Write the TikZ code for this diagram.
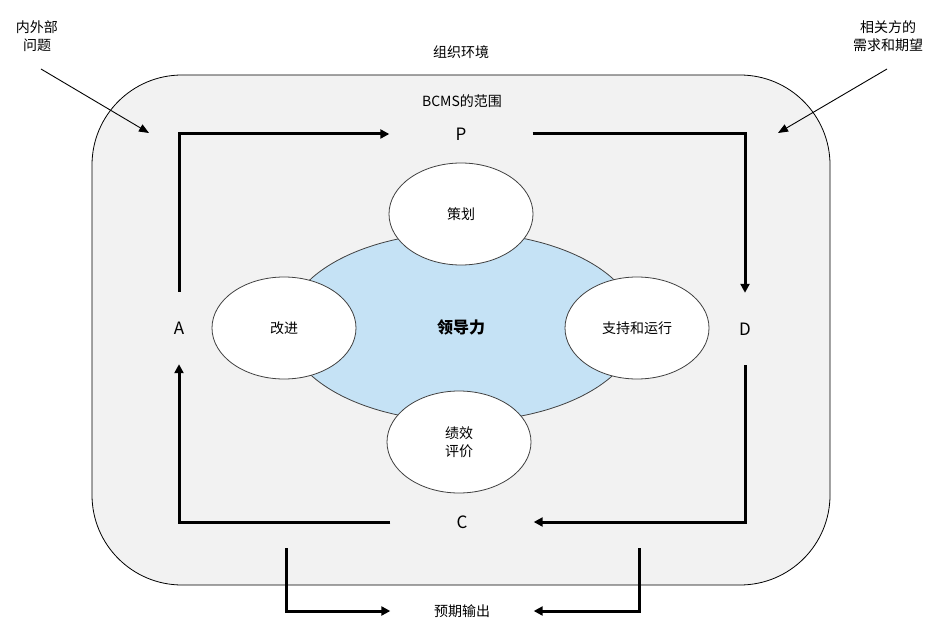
\documentclass[tikz,border=0pt]{standalone}
\usepackage{fontspec}
\setmainfont{Noto Sans CJK SC}
\usetikzlibrary{shapes.geometric,arrows.meta}
\definecolor{envgray}{HTML}{F2F2F2}
\definecolor{leadblue}{HTML}{C5E2F5}
\definecolor{edgegray}{HTML}{404040}
\tikzset{
  txt/.style={font=\fontsize{14}{18}\selectfont, text=black, align=center, inner sep=0pt},
  lab/.style={txt, font=\fontsize{17}{20}\selectfont, minimum width=143pt, minimum height=72pt},
  bubble/.style={ellipse, draw=edgegray, line width=0.8pt, fill=white, minimum width=144pt, minimum height=102pt, txt},
  flow/.style={line width=3pt, -{Triangle[length=9pt,width=9pt]}},
  thin/.style={line width=0.9pt, draw=black, -{Triangle[length=10pt,width=8pt]}}
}
\begin{document}
\begin{tikzpicture}[x=1pt,y=-1pt]
\useasboundingbox (0,0) rectangle (949,644);
\fill[white] (0,0) rectangle (949,644);
% environment box
\draw[fill=envgray, draw=black, line width=0.8pt, rounded corners=90pt] (92,75) rectangle (830,585);
\node[txt] (env) at (461,52) {组织环境};
\node[txt] (scope) at (462,101) {BCMS的范围};
% external texts
\node[txt] (issues) at (37,36) {内外部\\问题};
\node[txt] (parties) at (888,36) {相关方的\\需求和期望};
\coordinate (issueend) at (149,133);
\coordinate (partyend) at (778,133);
\draw[thin] (41,69) coordinate (issuestart) -- (issueend);
\draw[thin] (887,69) coordinate (partystart) -- (partyend);
% central ellipse
\node[ellipse, draw=edgegray, line width=0.8pt, fill=leadblue, minimum width=351pt, minimum height=189pt] (lead) at (462,327) {};
\node[txt, font=\fontsize{16}{18}\selectfont\bfseries] (leadtxt) at (461,327) {领导力};
% bubbles
\node[bubble] (plan) at (461,214) {策划};
\node[bubble] (improve) at (284,328) {改进};
\node[bubble] (support) at (637,328) {支持和运行};
\node[bubble] (perf) at (459,442) {绩效\\评价};
% PDCA labels
\node[lab] (P) at (461,134) {P};
\node[lab] (D) at (745,329) {D};
\node[lab] (C) at (462,522) {C};
\node[lab] (A) at (179,328) {A};
\node[txt, minimum width=143pt, minimum height=30pt] (out) at (462,611) {预期输出};
% flows
\draw[flow] (A.north) |- (P.west);
\draw[flow] (P.east) -| (D.north);
\draw[flow] (D.south) |- (C.east);
\draw[flow] (C.west) -| (A.south);
\coordinate (outl) at (286,548);
\coordinate (outr) at (639,548);
\draw[flow] (outl) |- (out.west);
\draw[flow] (outr) |- (out.east);
\end{tikzpicture}
\end{document}
